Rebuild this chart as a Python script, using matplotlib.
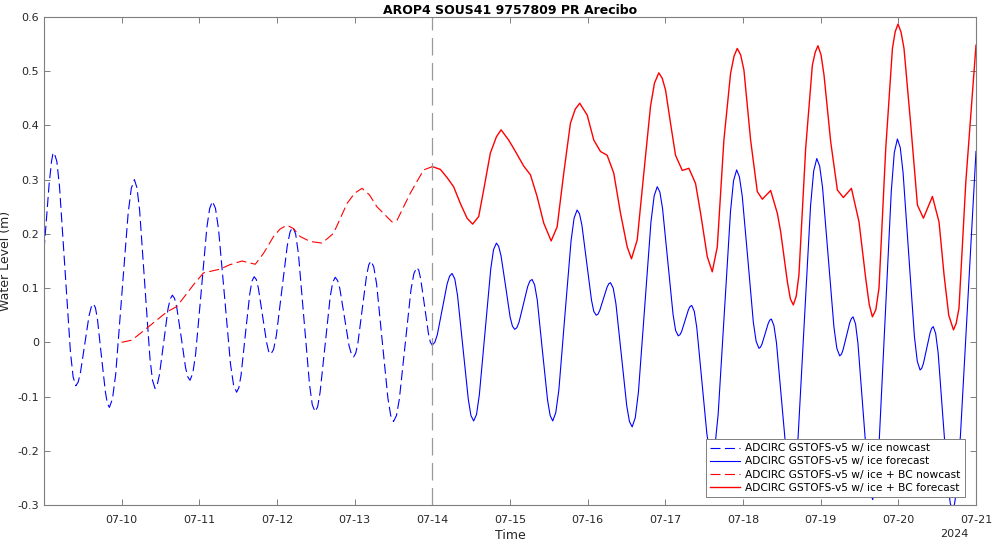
import matplotlib
matplotlib.use('Agg')
import matplotlib.pyplot as plt
import matplotlib.dates as mdates
import matplotlib.ticker as mticker
import pandas as pd

start = pd.Timestamp('2024-07-09 00:00')
end = pd.Timestamp('2024-07-21 00:00')
split = pd.Timestamp('2024-07-14 00:00')
tick_days = ['2024-07-10', '2024-07-11', '2024-07-12', '2024-07-13', '2024-07-14', '2024-07-15',
             '2024-07-16', '2024-07-17', '2024-07-18', '2024-07-19', '2024-07-20', '2024-07-21']
yticks = [-0.3, -0.2, -0.1, 0, 0.1, 0.2, 0.3, 0.4, 0.5, 0.6]

# times are in days after 07-09 00:00
ice_now_t = [0.00, 0.033, 0.065, 0.098, 0.114, 0.13, 0.165, 0.20, 0.27, 0.34,
             0.375, 0.41, 0.438, 0.467, 0.523, 0.580, 0.608, 0.636, 0.662, 0.688,
             0.739, 0.791, 0.816, 0.842, 0.882, 0.923, 1.003, 1.084, 1.124, 1.164,
             1.197, 1.231, 1.297, 1.364, 1.397, 1.43, 1.458, 1.486, 1.542, 1.597,
             1.625, 1.653, 1.681, 1.710, 1.767, 1.823, 1.852, 1.88, 1.916, 1.952,
             2.025, 2.097, 2.133, 2.169, 2.208, 2.247, 2.325, 2.402, 2.441, 2.48,
             2.508, 2.537, 2.593, 2.650, 2.678, 2.706, 2.733, 2.760, 2.813, 2.867,
             2.893, 2.92, 2.956, 2.991, 3.062, 3.133, 3.169, 3.204, 3.240, 3.276,
             3.347, 3.419, 3.454, 3.49, 3.523, 3.555, 3.620, 3.685, 3.718, 3.75,
             3.78, 3.809, 3.868, 3.927, 3.957, 3.986, 4.014, 4.042, 4.098, 4.154,
             4.182, 4.21, 4.246, 4.283, 4.355, 4.428, 4.464, 4.50, 4.538, 4.575,
             4.650, 4.725, 4.763, 4.80, 4.825, 4.85, 4.90, 4.95, 4.975, 5.0]
ice_now_v = [0.17, 0.23, 0.29, 0.335, 0.347, 0.35, 0.334, 0.287, 0.135, -0.017,
             -0.064, -0.08, -0.074, -0.058, -0.005, 0.049, 0.065, 0.071, 0.064, 0.043,
             -0.025, -0.092, -0.113, -0.12, -0.104, -0.059, 0.09, 0.239, 0.284, 0.30,
             0.285, 0.244, 0.108, -0.029, -0.07, -0.085, -0.078, -0.06, 0.001, 0.062,
             0.08, 0.087, 0.081, 0.064, 0.009, -0.047, -0.064, -0.07, -0.057, -0.022,
             0.095, 0.212, 0.247, 0.26, 0.247, 0.209, 0.084, -0.041, -0.079, -0.092,
             -0.084, -0.061, 0.015, 0.09, 0.113, 0.121, 0.116, 0.1, 0.05, -0.001,
             -0.017, -0.022, -0.013, 0.012, 0.096, 0.179, 0.204, 0.213, 0.2, 0.163,
             0.043, -0.078, -0.115, -0.128, -0.119, -0.092, -0.004, 0.084, 0.111, 0.12,
             0.114, 0.099, 0.047, -0.006, -0.021, -0.027, -0.02, -0.001, 0.062, 0.124,
             0.143, 0.15, 0.139, 0.107, 0.002, -0.103, -0.135, -0.146, -0.135, -0.105,
             -0.004, 0.097, 0.127, 0.138, 0.133, 0.117, 0.067, 0.016, 0.0, -0.005]

ice_fc_t = [5.0, 5.032, 5.064, 5.127, 5.191, 5.222, 5.254, 5.289, 5.324, 5.393,
            5.463, 5.497, 5.532, 5.569, 5.605, 5.679, 5.752, 5.788, 5.825, 5.854,
            5.884, 5.943, 6.001, 6.031, 6.06, 6.088, 6.116, 6.172, 6.228, 6.256,
            6.284, 6.317, 6.351, 6.417, 6.484, 6.517, 6.55, 6.589, 6.629, 6.707,
            6.786, 6.825, 6.864, 6.895, 6.926, 6.987, 7.049, 7.079, 7.11, 7.133,
            7.156, 7.202, 7.248, 7.271, 7.294, 7.329, 7.364, 7.434, 7.503, 7.538,
            7.573, 7.613, 7.654, 7.735, 7.815, 7.856, 7.896, 7.93, 7.964, 8.031,
            8.099, 8.132, 8.166, 8.188, 8.21, 8.253, 8.297, 8.318, 8.34, 8.373,
            8.405, 8.47, 8.535, 8.568, 8.60, 8.64, 8.68, 8.759, 8.839, 8.878,
            8.918, 8.954, 8.99, 9.062, 9.133, 9.169, 9.205, 9.225, 9.245, 9.285,
            9.325, 9.345, 9.365, 9.398, 9.431, 9.498, 9.564, 9.597, 9.63, 9.67,
            9.71, 9.79, 9.87, 9.91, 9.95, 9.987, 10.024, 10.098, 10.171, 10.208,
            10.245, 10.267, 10.288, 10.331, 10.374, 10.396, 10.417, 10.449, 10.48, 10.544,
            10.607, 10.638, 10.67, 10.71, 10.75, 10.829, 10.909, 10.948, 10.988, 11.025,
            11.061, 11.134, 11.207, 11.244, 11.28, 11.301, 11.323, 11.365, 11.408, 11.429,
            11.45, 11.481, 11.513, 11.575, 11.638, 11.669, 11.70, 11.725, 11.75, 11.80,
            11.85, 11.925, 12.0]
ice_fc_v = [-0.005, 0.0, 0.014, 0.061, 0.108, 0.122, 0.127, 0.117, 0.087, -0.009,
            -0.105, -0.135, -0.145, -0.133, -0.097, 0.019, 0.135, 0.171, 0.183, 0.177,
            0.16, 0.104, 0.047, 0.03, 0.024, 0.027, 0.037, 0.07, 0.103, 0.113,
            0.116, 0.106, 0.078, -0.015, -0.107, -0.135, -0.145, -0.13, -0.088, 0.05,
            0.187, 0.229, 0.244, 0.237, 0.216, 0.147, 0.078, 0.057, 0.05, 0.052,
            0.059, 0.08, 0.101, 0.108, 0.11, 0.1, 0.071, -0.023, -0.117, -0.146,
            -0.156, -0.139, -0.091, 0.066, 0.222, 0.27, 0.287, 0.277, 0.247, 0.15,
            0.052, 0.022, 0.012, 0.014, 0.02, 0.04, 0.06, 0.066, 0.068, 0.057,
            0.027, -0.071, -0.169, -0.2, -0.21, -0.19, -0.133, 0.054, 0.241, 0.298,
            0.318, 0.305, 0.27, 0.154, 0.037, 0.002, -0.011, -0.009, -0.003, 0.016,
            0.035, 0.041, 0.043, 0.031, -0.001, -0.109, -0.216, -0.248, -0.26, -0.237,
            -0.173, 0.04, 0.252, 0.316, 0.339, 0.325, 0.286, 0.157, 0.028, -0.011,
            -0.025, -0.022, -0.014, 0.011, 0.036, 0.044, 0.047, 0.034, -0.002, -0.122,
            -0.241, -0.277, -0.29, -0.265, -0.193, 0.043, 0.278, 0.35, 0.375, 0.359,
            0.313, 0.162, 0.011, -0.035, -0.051, -0.048, -0.039, -0.011, 0.017, 0.026,
            0.029, 0.016, -0.02, -0.141, -0.261, -0.297, -0.31, -0.297, -0.27, -0.171,
            -0.04, 0.16, 0.352]

bc_now_t = [1.0, 1.13, 1.323, 1.581, 1.71, 1.924, 2.053, 2.268, 2.39, 2.55, 2.72, 2.826, 2.955, 3.04, 3.128,
            3.21, 3.299, 3.428, 3.579, 3.728, 3.901, 4.0, 4.094, 4.19, 4.287, 4.481, 4.545, 4.716, 4.888, 5.0]
bc_now_v = [0.0, 0.004, 0.026, 0.056, 0.066, 0.106, 0.128, 0.135, 0.143, 0.150, 0.144, 0.164, 0.195, 0.209, 0.216,
            0.21, 0.195, 0.186, 0.183, 0.201, 0.256, 0.275, 0.284, 0.272, 0.25, 0.222, 0.225, 0.275, 0.318, 0.324]

bc_fc_t = [5.0, 5.103, 5.189, 5.274, 5.361, 5.447, 5.519, 5.597, 5.661, 5.747, 5.825, 5.885, 5.983, 6.070,
           6.177, 6.263, 6.349, 6.434, 6.530, 6.607, 6.692, 6.778, 6.84, 6.898, 6.994, 7.079, 7.165, 7.251,
           7.336, 7.423, 7.509, 7.564, 7.638, 7.723, 7.809, 7.86, 7.916, 7.96, 8.003, 8.067, 8.131, 8.218,
           8.303, 8.389, 8.454, 8.540, 8.604, 8.669, 8.754, 8.840, 8.885, 8.926, 8.97, 9.012, 9.098, 9.184,
           9.249, 9.356, 9.442, 9.485, 9.571, 9.61, 9.648, 9.685, 9.720, 9.807, 9.893, 9.93, 9.965, 10.005,
           10.043, 10.129, 10.215, 10.292, 10.396, 10.494, 10.580, 10.625, 10.666, 10.71, 10.751, 10.838,
           10.924, 10.96, 10.996, 11.035, 11.073, 11.160, 11.246, 11.323, 11.439, 11.524, 11.589, 11.649,
           11.710, 11.745, 11.781, 11.869, 12.0]
bc_fc_v = [0.324, 0.319, 0.304, 0.287, 0.256, 0.229, 0.218, 0.232, 0.281, 0.349, 0.379, 0.392, 0.373, 0.352,
           0.325, 0.309, 0.269, 0.22, 0.187, 0.213, 0.312, 0.404, 0.43, 0.441, 0.419, 0.373, 0.352, 0.345,
           0.312, 0.238, 0.176, 0.154, 0.189, 0.312, 0.435, 0.478, 0.497, 0.487, 0.465, 0.404, 0.345, 0.317,
           0.321, 0.293, 0.238, 0.158, 0.130, 0.176, 0.373, 0.496, 0.528, 0.542, 0.53, 0.502, 0.373, 0.278,
           0.264, 0.28, 0.238, 0.204, 0.112, 0.08, 0.069, 0.085, 0.124, 0.358, 0.511, 0.535, 0.547, 0.53,
           0.493, 0.37, 0.281, 0.267, 0.284, 0.222, 0.118, 0.07, 0.047, 0.06, 0.1, 0.358,
           0.542, 0.573, 0.587, 0.572, 0.542, 0.401, 0.253, 0.229, 0.269, 0.222, 0.124, 0.05,
           0.023, 0.035, 0.063, 0.296, 0.548]

labels = ['ADCIRC GSTOFS-v5 w/ ice nowcast', 'ADCIRC GSTOFS-v5 w/ ice forecast',
          'ADCIRC GSTOFS-v5 w/ ice + BC nowcast', 'ADCIRC GSTOFS-v5 w/ ice + BC forecast']


def to_time(days):
    return start + pd.to_timedelta(days, unit='D')


plt.rcParams['font.family'] = 'DejaVu Sans'
fig = plt.figure(figsize=(9.92, 5.41), dpi=100)
ax = fig.add_axes([44 / 992, 36 / 541, 932 / 992, 488 / 541])

dash = (0, (9, 4))
ax.plot(to_time(ice_now_t), ice_now_v, color='#0000ff', lw=0.8, ls=dash, label=labels[0])
ax.plot(to_time(ice_fc_t), ice_fc_v, color='#0000ff', lw=0.8, label=labels[1])
ax.plot(to_time(bc_now_t), bc_now_v, color='#ff0000', lw=0.8, ls=dash, label=labels[2])
ax.plot(to_time(bc_fc_t), bc_fc_v, color='#ff0000', lw=1.0, label=labels[3])
ax.axvline(split, color='#999999', lw=0.9, ls=(0, (14, 6)))

ax.set_xlim(start, end)
ax.set_ylim(-0.3, 0.6)
ax.set_xticks(pd.to_datetime(tick_days))
ax.xaxis.set_major_formatter(mdates.DateFormatter('%m-%d'))
ax.set_yticks(yticks)
ax.yaxis.set_major_formatter(mticker.FormatStrFormatter('%g'))
ax.tick_params(direction='in', length=4, width=0.7, color='#7f7f7f', labelcolor='#262626',
               labelsize=8, top=True, right=True)
ax.tick_params(axis='x', pad=7)
for s in ax.spines.values():
    s.set_color('#7f7f7f')
    s.set_linewidth(0.8)

ax.set_title('AROP4 SOUS41 9757809 PR Arecibo', fontsize=9, fontweight='bold', pad=2)
ax.set_xlabel('Time', fontsize=9, color='#262626', labelpad=3)
ax.set_ylabel('Water Level (m)', fontsize=9, color='#262626', labelpad=4)
ax.text(0.977, -0.059, '2024', transform=ax.transAxes, ha='center', va='center', fontsize=8, color='#262626')

leg = ax.legend(loc='lower right', bbox_to_anchor=(0.988, 0.016), borderaxespad=0, fontsize=7.7,
                fancybox=False, edgecolor='#7f7f7f', framealpha=1, handlelength=2.8,
                handletextpad=0.5, labelspacing=0.3, borderpad=0.4)
leg.get_frame().set_linewidth(0.7)

fig.savefig('out.png', dpi=100)
